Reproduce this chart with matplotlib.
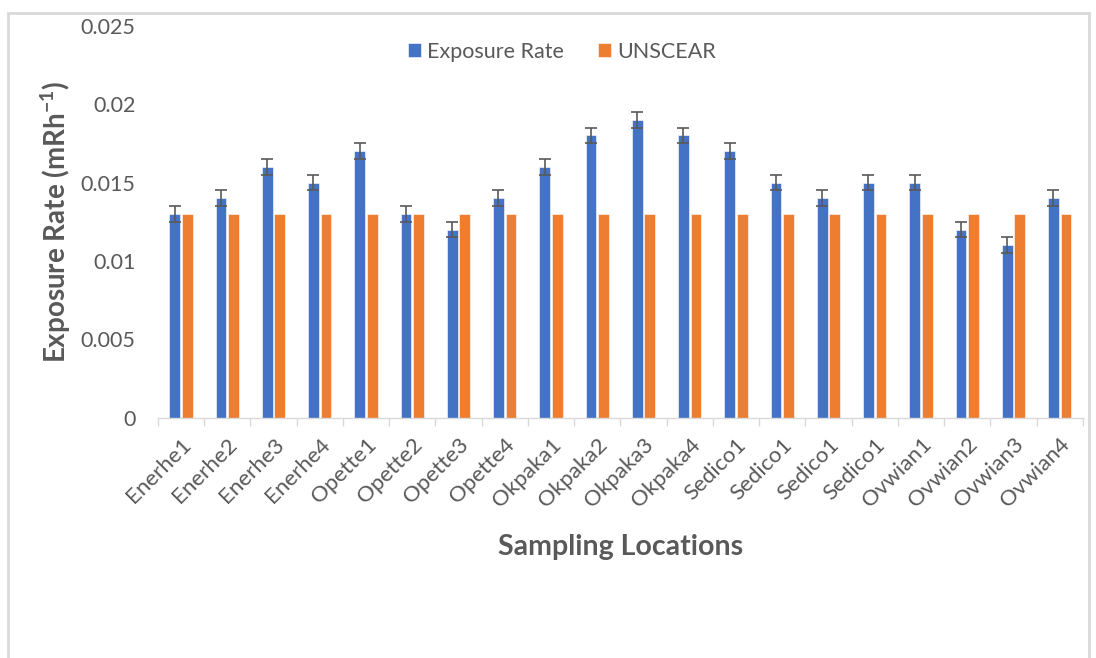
import numpy as np
import matplotlib.pyplot as plt
from matplotlib.patches import Rectangle

plt.rcParams['font.family'] = ['Lato', 'DejaVu Sans']

locations = ['Enerhe1', 'Enerhe2', 'Enerhe3', 'Enerhe4', 'Opette1', 'Opette2', 'Opette3', 'Opette4',
             'Okpaka1', 'Okpaka2', 'Okpaka3', 'Okpaka4', 'Sedico1', 'Sedico1', 'Sedico1', 'Sedico1',
             'Ovwian1', 'Ovwian2', 'Ovwian3', 'Ovwian4']
exposure = [0.013, 0.014, 0.016, 0.015, 0.017, 0.013, 0.012, 0.014,
            0.016, 0.018, 0.019, 0.018, 0.017, 0.015, 0.014, 0.015,
            0.015, 0.012, 0.011, 0.014]
exposure_err = [0.0005] * 20
unscear = [0.013] * 20

gray = '#595959'
blue = '#4472C4'
orange = '#ED7D31'

fig = plt.figure(figsize=(10.96, 6.58), dpi=100)
ax = fig.add_axes([0.144, 0.365, 0.844, 0.596])

x = np.arange(len(locations))
w = 0.23
ax.bar(x - 0.135, exposure, w, color=blue, edgecolor='white', linewidth=0.4, label='Exposure Rate',
       yerr=exposure_err, capsize=4.5, error_kw=dict(ecolor=gray, elinewidth=1.2, capthick=1.2))
ax.bar(x + 0.135, unscear, w, color=orange, edgecolor='white', linewidth=0.4, label='UNSCEAR')

ax.set_xlim(-0.5, len(locations) - 0.5)
ax.set_ylim(0, 0.025)
ax.set_yticks([0, 0.005, 0.01, 0.015, 0.02, 0.025])
ax.set_yticklabels(['0', '0.005', '0.01', '0.015', '0.02', '0.025'])

ax.set_xticks(x)
ax.set_xticklabels(locations, rotation=45, ha='right', rotation_mode='anchor')
ax.set_xticks(np.arange(-0.5, len(locations)), minor=True)
ax.tick_params(axis='x', which='major', length=0, pad=12, labelsize=16, labelcolor=gray)
ax.tick_params(axis='x', which='minor', length=6, width=1, color='#d9d9d9')
ax.tick_params(axis='y', length=0, pad=16, labelsize=15.5, labelcolor=gray)

for s in ['top', 'right', 'left']:
    ax.spines[s].set_visible(False)
ax.spines['bottom'].set_color('#d9d9d9')
ax.spines['bottom'].set_linewidth(1)

ax.set_ylabel('Exposure Rate (mRh$^{\\mathregular{-1}}$)', fontsize=20, fontweight='bold', color=gray)
ax.yaxis.set_label_coords(-0.092, 0.5)
ax.set_xlabel('Sampling Locations', fontsize=20.5, fontweight='bold', color=gray)
ax.xaxis.set_label_coords(0.5, -0.295)

leg = ax.legend(loc='center', bbox_to_anchor=(0.437, 0.934), ncol=2, frameon=False,
                fontsize=15.5, handlelength=0.6, handleheight=0.6, handletextpad=0.3, columnspacing=1.6)
for t in leg.get_texts():
    t.set_color(gray)

fig.patches.append(Rectangle((8 / 1096, -0.1), 1081 / 1096, 1.1 - 13 / 658, transform=fig.transFigure,
                             fill=False, edgecolor='#d9d9d9', linewidth=2, clip_on=False))

fig.savefig('out.png', dpi=100)
